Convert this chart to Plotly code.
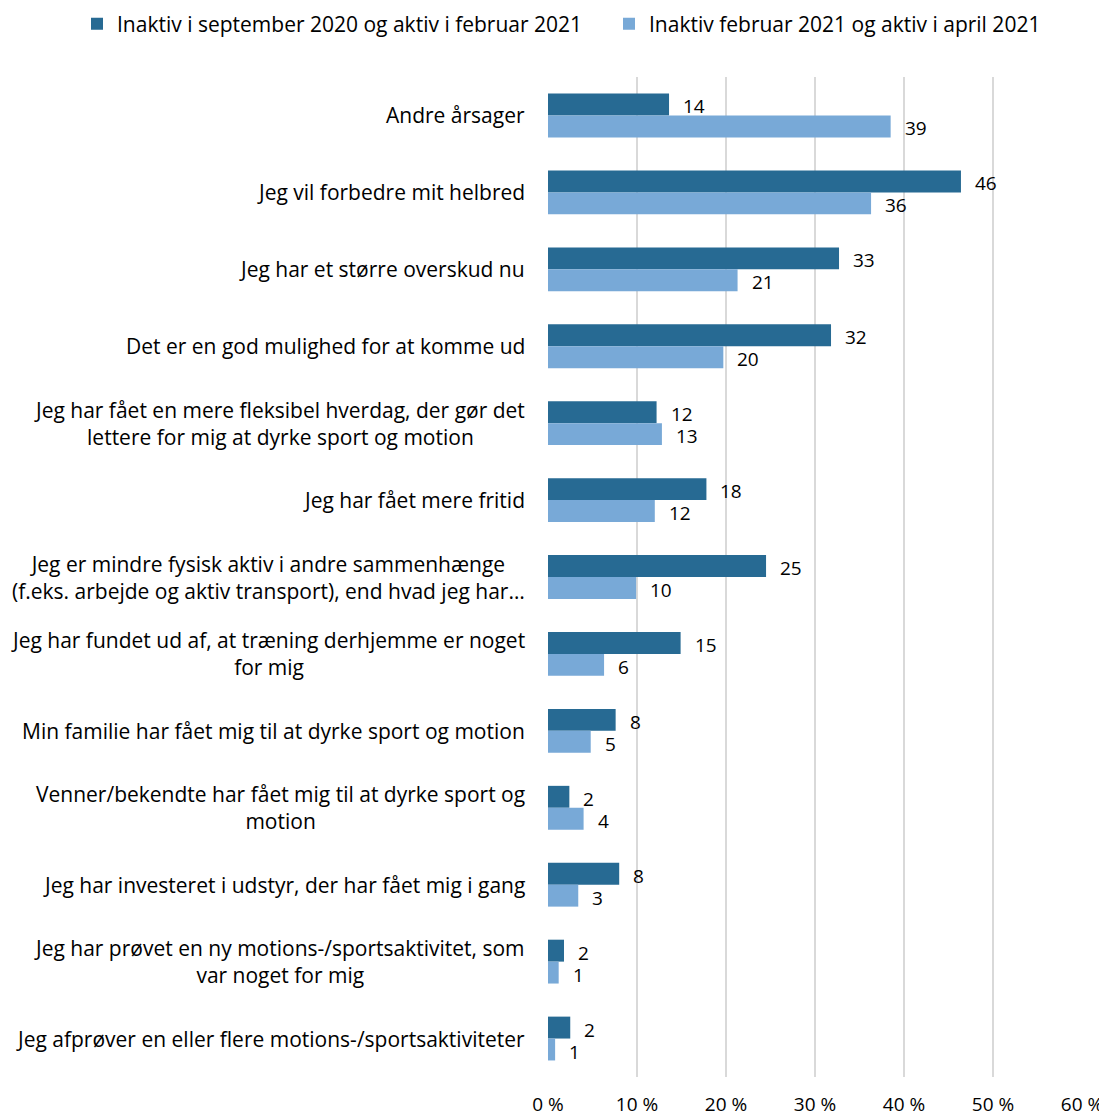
import plotly.graph_objects as go

categories = [
    "Andre årsager",
    "Jeg vil forbedre mit helbred",
    "Jeg har et større overskud nu",
    "Det er en god mulighed for at komme ud",
    "Jeg har fået en mere fleksibel hverdag, der gør det<br>lettere for mig at dyrke sport og motion",
    "Jeg har fået mere fritid",
    "Jeg er mindre fysisk aktiv i andre sammenhænge<br>(f.eks. arbejde og aktiv transport), end hvad jeg har…",
    "Jeg har fundet ud af, at træning derhjemme er noget<br>for mig",
    "Min familie har fået mig til at dyrke sport og motion",
    "Venner/bekendte har fået mig til at dyrke sport og<br>motion",
    "Jeg har investeret i udstyr, der har fået mig i gang",
    "Jeg har prøvet en ny motions-/sportsaktivitet, som<br>var noget for mig",
    "Jeg afprøver en eller flere motions-/sportsaktiviteter",
]

series1_name = "Inaktiv i september 2020 og aktiv i februar 2021"
series2_name = "Inaktiv februar 2021 og aktiv i april 2021"

series1_values = [13.6, 46.4, 32.7, 31.8, 12.2, 17.8, 24.5, 14.9, 7.6, 2.4, 8.0, 1.8, 2.5]
series2_values = [38.5, 36.3, 21.3, 19.7, 12.8, 12.0, 9.9, 6.3, 4.8, 4.0, 3.4, 1.2, 0.8]

series1_labels = [14, 46, 33, 32, 12, 18, 25, 15, 8, 2, 8, 2, 2]
series2_labels = [39, 36, 21, 20, 13, 12, 10, 6, 5, 4, 3, 1, 1]

tick_values = [0, 10, 20, 30, 40, 50, 60]
tick_labels = ["0 %", "10 %", "20 %", "30 %", "40 %", "50 %", "60 %"]

DARK = "#276A93"
LIGHT = "#78A9D7"
FONT = "Open Sans"
FS = 21
FS_NUM = 19
W, H = 1099, 1110

fig = go.Figure()
fig.add_trace(go.Bar(
    y=categories, x=series1_values, orientation="h", name=series1_name,
    marker=dict(color=DARK, line=dict(width=0)), legend="legend",
))
fig.add_trace(go.Bar(
    y=categories, x=series2_values, orientation="h", name=series2_name,
    marker=dict(color=LIGHT, line=dict(width=0)), legend="legend2",
))

annotations = []
for cat, v, lab in zip(categories, series1_values, series1_labels):
    annotations.append(dict(x=v, y=cat, xref="x", yref="y", text=str(lab),
                            showarrow=False, xanchor="left", yanchor="middle",
                            xshift=13, yshift=9, borderpad=0,
                            font=dict(family=FONT, size=FS_NUM, color="#000000")))
for cat, v, lab in zip(categories, series2_values, series2_labels):
    annotations.append(dict(x=v, y=cat, xref="x", yref="y", text=str(lab),
                            showarrow=False, xanchor="left", yanchor="middle",
                            xshift=13, yshift=-13, borderpad=0,
                            font=dict(family=FONT, size=FS_NUM, color="#000000")))
for cat in categories:
    annotations.append(dict(x=0, y=cat, xref="paper", yref="y", text=cat,
                            showarrow=False, xanchor="right", yanchor="middle",
                            align="center", xshift=-21,
                            font=dict(family=FONT, size=FS, color="#000000")))

legend_common = dict(orientation="h", xref="container", yref="container",
                     yanchor="middle", xanchor="left",
                     font=dict(family=FONT, size=FS, color="#000000"),
                     bgcolor="rgba(0,0,0,0)", borderwidth=0,
                     itemwidth=30)

fig.update_layout(
    width=W, height=H,
    margin=dict(l=540, r=25, t=69, b=41, autoexpand=False),
    paper_bgcolor="white", plot_bgcolor="white",
    barmode="group", bargap=0.43, bargroupgap=0,
    font=dict(family=FONT, size=FS, color="#000000"),
    showlegend=True,
    legend=dict(x=69 / W, y=1 - 16 / H, **legend_common),
    legend2=dict(x=601 / W, y=1 - 16 / H, **legend_common),
    annotations=annotations,
    xaxis=dict(range=[0, 60], tickvals=tick_values, ticktext=tick_labels,
               showgrid=True, gridcolor="#D9D9D9", gridwidth=1.5,
               zeroline=False, showline=False, automargin=False,
               ticks="outside", ticklen=10, tickcolor="rgba(0,0,0,0)",
               tickfont=dict(family=FONT, size=FS_NUM, color="#000000"), fixedrange=True),
    yaxis=dict(autorange="reversed", showticklabels=False, showgrid=False,
               zeroline=False, showline=False, ticks="", automargin=False),
)

fig.write_html("out.html")
